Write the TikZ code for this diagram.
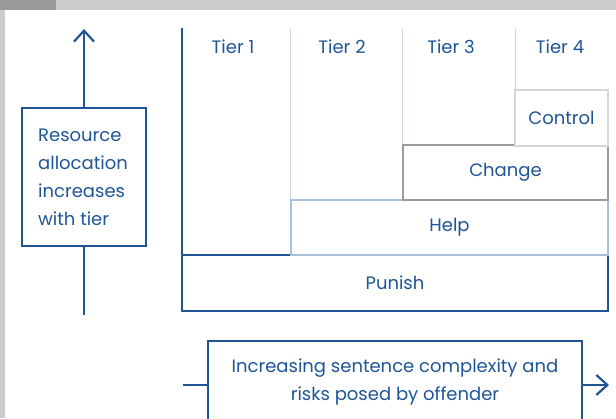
\documentclass[tikz,border=0pt]{standalone}
\usepackage{fontspec}
\setmainfont{Poppins}
\usetikzlibrary{arrows.meta}
\definecolor{navy}{HTML}{1F5597}
\definecolor{paleblue}{HTML}{A9C0DC}
\definecolor{tierline}{HTML}{C8D6E8}
\definecolor{midgrey}{HTML}{9B9B9B}
\definecolor{lightgrey}{HTML}{D6D6D6}
\definecolor{band}{HTML}{CCCCCC}
\definecolor{bandtab}{HTML}{999999}
\tikzset{
  txt/.style={text=navy, font=\fontsize{18}{28}\selectfont, inner sep=0pt},
  tierbox/.style={draw, fill=white, line width=2.2pt, minimum height=#1, inner sep=0pt, txt},
  tierbox/.default=55pt,
  axis/.style={draw=navy, line width=2.2pt},
  barb/.style={-{Straight Barb[length=11pt,width=20pt,line width=2.2pt]}},
}
\begin{document}
\begin{tikzpicture}[x=1pt,y=-1pt]
\useasboundingbox (0,0) rectangle (616,418);
\clip (0,0) rectangle (616,418);
% page frame
\fill[band] (0,0) rectangle (616,10);
\fill[bandtab] (0,0) rectangle (56,10);
\fill[band] (0,10) rectangle (5,418);

% tier columns
\draw[navy, line width=1.5pt] (182,28) -- (182,311);
\foreach \x in {290,402,515} \draw[tierline, line width=1pt] (\x,28) -- (\x,311);
\node[txt] (t1) at (233,47) {Tier 1};
\node[txt] (t2) at (342,47) {Tier 2};
\node[txt] (t3) at (451,47) {Tier 3};
\node[txt] (t4) at (560,47) {Tier 4};

% stacked interventions
\node[tierbox, draw=navy, line width=2.8pt, minimum width=426pt, minimum height=56pt] (punish) at (395,283) {Punish};
\node[tierbox, draw=paleblue, minimum width=317pt] (help) at (449.5,227.5) {Help};
\node[tierbox, draw=midgrey, minimum width=205pt] (change) at (505.5,172.5) {Change};
\node[tierbox, draw=lightgrey, minimum width=93pt, minimum height=56pt] (control) at (561.5,118) {Control};

% resource axis
\node[draw=navy, line width=2.6pt, minimum width=124pt, minimum height=138pt, inner sep=0pt] (res) at (84,177) {};
\node[txt, align=left, anchor=north west] (restxt) at (38,129) {Resource\\allocation\\increases\\with tier};
\coordinate (resTop) at (84,29);
\coordinate (resBot) at (84,315);
\draw[axis] (resBot) -- (res.south);
\draw[axis, barb] (res.north) -- (resTop);

% complexity axis
\node[draw=navy, line width=2.6pt, minimum width=374pt, minimum height=82pt, txt, align=center] (cx) at (395,382) {Increasing sentence complexity and\\risks posed by offender};
\coordinate (cxL) at (183,385);
\coordinate (cxR) at (609,385);
\draw[axis] (cxL) -- (cxL -| cx.west);
\draw[axis, barb] (cxR -| cx.east) -- (cxR);
\end{tikzpicture}
\end{document}
